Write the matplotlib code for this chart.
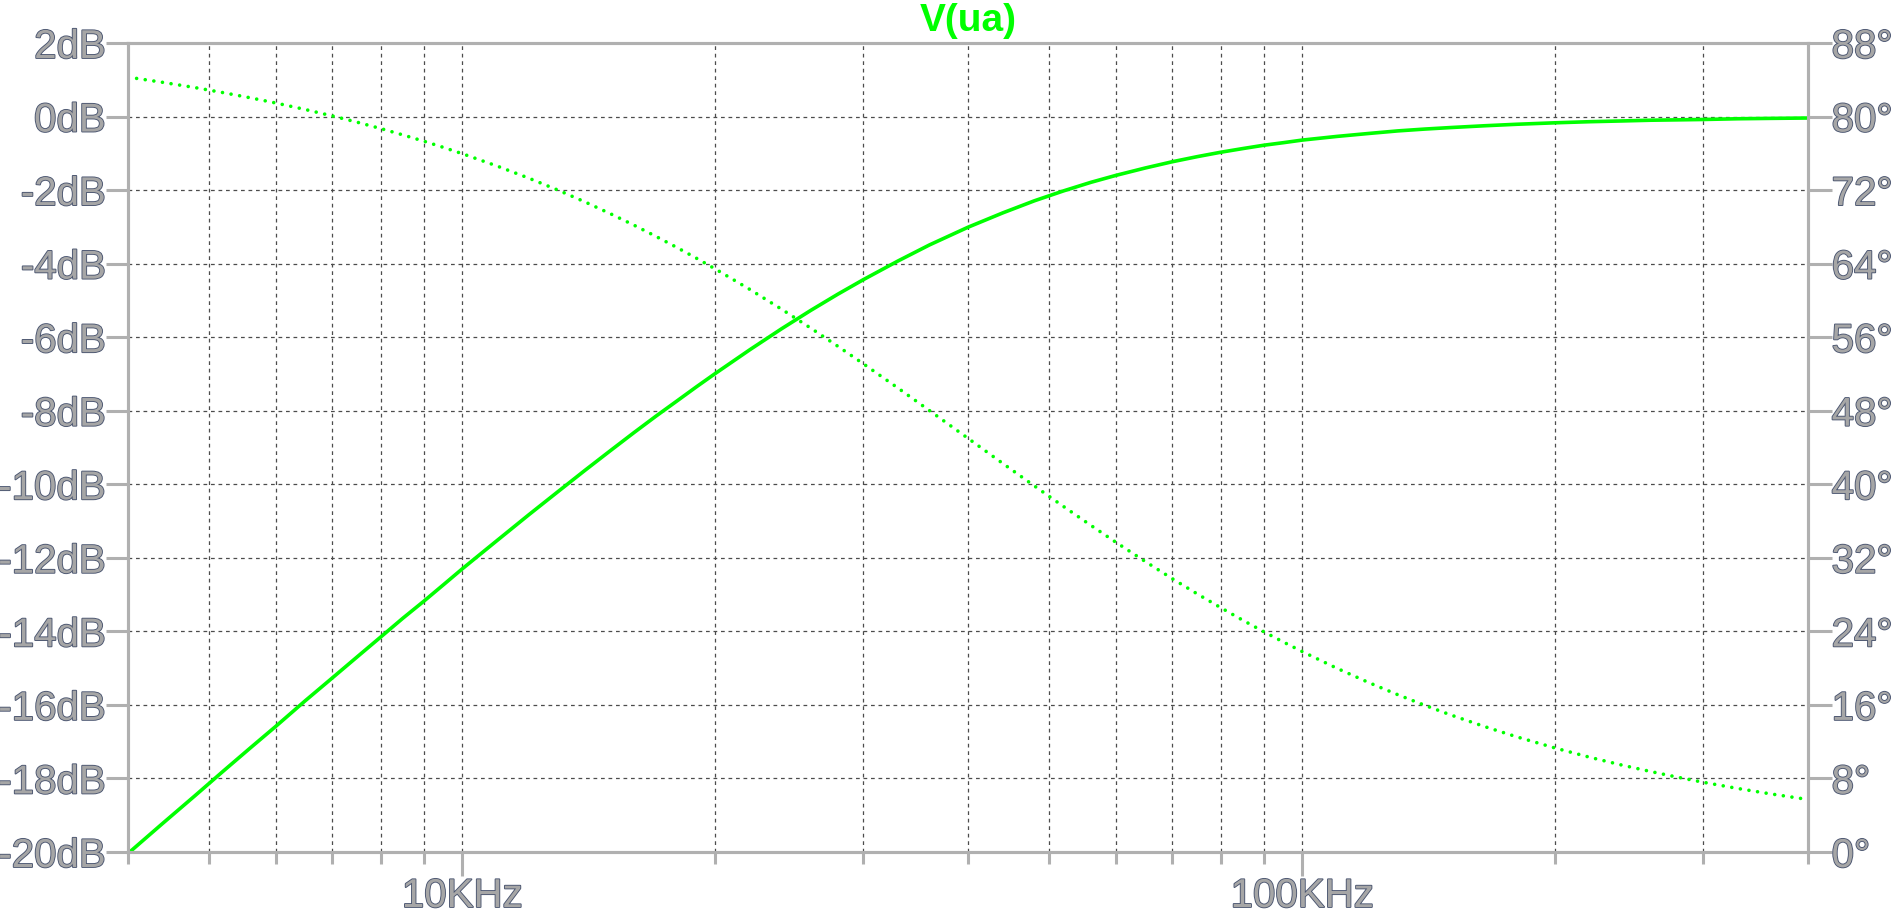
import matplotlib
matplotlib.use('Agg')
import matplotlib.pyplot as plt
import matplotlib.patheffects as pe
from matplotlib.ticker import FixedLocator, NullFormatter

# 读图得到的数据 (频率单位 KHz)
freq_khz = [4, 4.4, 4.8, 5.2, 5.6, 6, 6.5, 7, 7.5, 8, 8.5, 9, 9.5, 10, 11, 12,
            13, 14, 15, 16, 17, 18, 19, 20, 22, 24, 26, 28, 30, 33, 36, 40, 44,
            48, 52, 56, 60, 65, 70, 75, 80, 85, 90, 95, 100, 110, 120, 130,
            140, 150, 165, 180, 200, 220, 240, 260, 280, 300, 330, 360, 400]
mag_db = [-20.04, -19.22, -18.48, -17.79, -17.16, -16.58, -15.89, -15.27,
          -14.69, -14.15, -13.64, -13.18, -12.73, -12.30, -11.53, -10.83,
          -10.20, -9.62, -9.09, -8.60, -8.15, -7.74, -7.35, -6.99, -6.34,
          -5.77, -5.27, -4.83, -4.44, -3.93, -3.49, -3.01, -2.62, -2.29,
          -2.02, -1.79, -1.60, -1.40, -1.23, -1.09, -0.97, -0.87, -0.78,
          -0.71, -0.64, -0.54, -0.46, -0.39, -0.34, -0.30, -0.25, -0.21,
          -0.17, -0.14, -0.12, -0.10, -0.09, -0.08, -0.06, -0.05, -0.04]
phase_deg = [84.29, 83.72, 83.16, 82.59, 82.03, 81.47, 80.77, 80.07, 79.38,
             78.69, 78.00, 77.32, 76.64, 75.96, 74.62, 73.30, 72.00, 70.71,
             69.44, 68.20, 66.97, 65.77, 64.59, 63.43, 61.19, 59.04, 56.98,
             55.01, 53.13, 50.48, 48.01, 45.00, 42.27, 39.81, 37.57, 35.54,
             33.69, 31.61, 29.74, 28.07, 26.57, 25.20, 23.96, 22.83, 21.80,
             19.98, 18.43, 17.10, 15.95, 14.93, 13.63, 12.53, 11.31, 10.30,
             9.46, 8.75, 8.13, 7.59, 6.91, 6.34, 5.71]

db_ticks = list(range(-20, 3, 2))
deg_ticks = list(range(0, 89, 8))
major_khz = [10, 100]
minor_khz = [4, 5, 6, 7, 8, 9, 20, 30, 40, 50, 60, 70, 80, 90, 200, 300, 400]
trace_name = 'V(ua)'

GREEN = '#00ff00'
AXGRAY = '#b0b0b0'
TXTGRAY = '#a6a6a6'
outline = [pe.withStroke(linewidth=1.3, foreground='#4a5570')]

plt.rcParams['font.family'] = ['Liberation Sans', 'DejaVu Sans']

fig = plt.figure(figsize=(18.99, 9.16), dpi=100)
ax = fig.add_axes([128 / 1899, 1 - 852 / 916, (1808 - 128) / 1899, (852 - 43) / 916])
ax2 = ax.twinx()

freq = [f * 1000 for f in freq_khz]
ax.plot(freq, mag_db, color=GREEN, lw=2.6, solid_capstyle='butt')
ax2.plot(freq, phase_deg, color=GREEN, lw=2.6, linestyle=(0, (0.01, 2.4)),
         dash_capstyle='round')

ax.set_xscale('log')
ax.set_xlim(4000, 400000)
ax.set_ylim(-20, 2)
ax2.set_ylim(0, 88)

# 网格
for f in major_khz + minor_khz:
    if 4 < f < 400:
        ax.axvline(f * 1000, color='#4c4c4c', lw=0.9, linestyle=(0, (3, 3)), zorder=0)
for d in db_ticks[1:-1]:
    ax.axhline(d, color='#4c4c4c', lw=0.9, linestyle=(0, (3, 3)), zorder=0)

# 坐标轴
for a in (ax, ax2):
    for s in a.spines.values():
        s.set_color(AXGRAY)
        s.set_linewidth(2.2)

ax.xaxis.set_major_locator(FixedLocator([f * 1000 for f in major_khz]))
ax.xaxis.set_minor_locator(FixedLocator([f * 1000 for f in minor_khz]))
ax.xaxis.set_minor_formatter(NullFormatter())
ax.set_xticklabels([f'{f}KHz' for f in major_khz])
ax.set_yticks(db_ticks)
ax.set_yticklabels([f'{d}dB' for d in db_ticks])
ax2.set_yticks(deg_ticks)
ax2.set_yticklabels([f'{d}°' for d in deg_ticks])

ax.tick_params(axis='x', which='major', length=17, width=2.2, color=AXGRAY,
               pad=1, labelsize=29, labelcolor=TXTGRAY)
ax.tick_params(axis='x', which='minor', length=8.5, width=2.2, color=AXGRAY)
ax.tick_params(axis='y', length=16, width=2.2, color=AXGRAY, pad=0,
               labelsize=29, labelcolor=TXTGRAY)
ax2.tick_params(axis='y', length=17, width=2.2, color=AXGRAY, pad=0,
                labelsize=29, labelcolor=TXTGRAY)

for t in ax.get_xticklabels() + ax.get_yticklabels() + ax2.get_yticklabels():
    t.set_path_effects(outline)

ax.text(0.5, 1.005, trace_name, transform=ax.transAxes, ha='center', va='bottom',
        fontsize=28, fontweight='bold', color=GREEN)

fig.savefig('out.png', dpi=100, facecolor='white')
